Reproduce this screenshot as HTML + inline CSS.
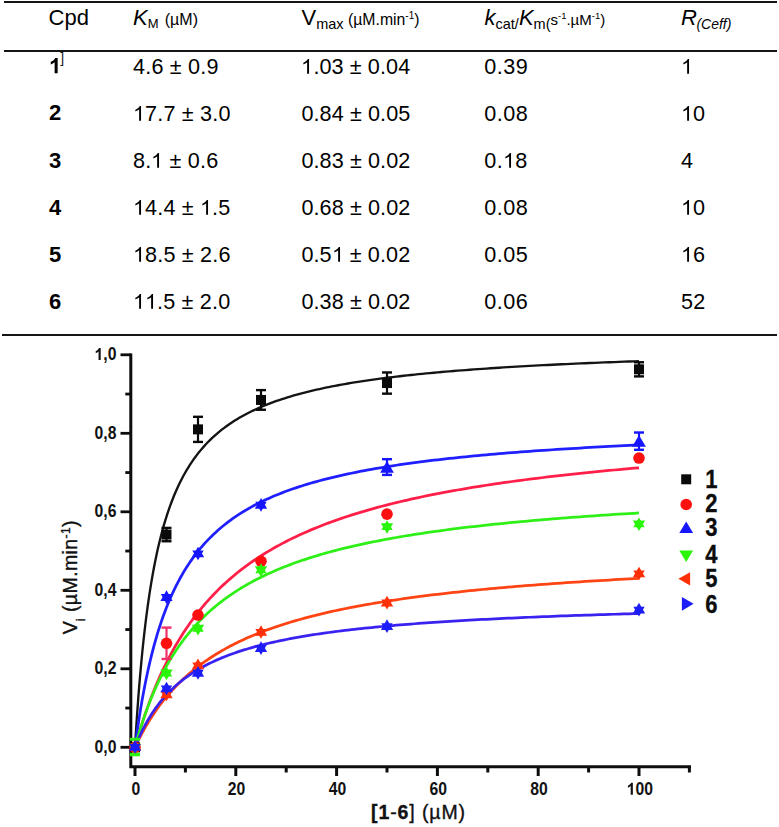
<!DOCTYPE html>
<html><head><meta charset="utf-8"><style>
html,body{margin:0;padding:0;background:#fff;}
body{width:779px;height:827px;position:relative;overflow:hidden;font-family:"Liberation Sans", sans-serif;color:#000;}
.t{position:absolute;white-space:nowrap;line-height:1;}
.hl{position:absolute;background:#151515;}
svg.chart{position:absolute;left:0;top:0;}
svg.one{display:inline-block;vertical-align:baseline;width:0.5562em;height:0.688em;fill:currentColor;overflow:visible;}
svg text{font-family:"Liberation Sans", sans-serif;}
</style></head><body>
<div class="t" style="left:48.60px;top:7.28px;font-size:22px;font-weight:normal;font-style:normal;color:#000;">Cpd</div>
<div class="t" style="left:133.00px;top:7.28px;font-size:22px;font-weight:normal;font-style:normal;color:#000;"><i>K</i><span style="font-size:13px;position:relative;top:3.2px;">M</span><span style="font-size:16px;position:relative;top:0px;margin-left:1.8px">&nbsp;(µM)</span></div>
<div class="t" style="left:301.50px;top:7.28px;font-size:22px;font-weight:normal;font-style:normal;color:#000;">V<span style="font-size:14.5px;position:relative;top:3.4px;">max</span><span style="font-size:15.8px;position:relative;top:0px;">&nbsp;(µM.min<span style="font-size:10px;position:relative;top:-6px;">-1</span>)</span></div>
<div class="t" style="left:484.50px;top:7.28px;font-size:22px;font-weight:normal;font-style:normal;color:#000;"><i>k</i><span style="font-size:14.5px;position:relative;top:3.4px;">cat/</span><i>K</i><span style="font-size:14.5px;position:relative;top:3.4px;">m(</span><span style="font-size:15px;position:relative;top:0px;">s<span style="font-size:9.5px;position:relative;top:-6px;">-1</span>.µM<span style="font-size:9.5px;position:relative;top:-6px;">-1</span>)</span></div>
<div class="t" style="left:681.00px;top:7.28px;font-size:22px;font-weight:normal;font-style:normal;color:#000;"><i>R</i><span style="font-size:14px;position:relative;top:3.3px;font-style:italic;margin-left:-0.5px">(Ceff)</span></div>
<div class="t" style="left:48.90px;top:55.38px;font-size:22px;font-weight:bold;font-style:normal;color:#000;"><svg class="one" viewBox="0 0 1139 1472" preserveAspectRatio="none"><path transform="matrix(1 0 0 -1 0 1472)" d="M806 0H525V1059Q371 915 162 846V1101Q272 1137 401 1237.5T578 1472H806V0Z"/></svg></div>
<div class="t" style="left:133.00px;top:55.72px;font-size:21.6px;font-weight:normal;font-style:normal;color:#000;letter-spacing:0.2px">4.6 ± 0.9</div>
<div class="t" style="left:301.40px;top:55.72px;font-size:21.6px;font-weight:normal;font-style:normal;color:#000;letter-spacing:0.1px"><svg class="one" viewBox="0 0 1139 1472" preserveAspectRatio="none"><path transform="matrix(1 0 0 -1 0 1472)" d="M763 0H583V1147Q518 1085 412.5 1023T223 930V1104Q374 1175 487 1276T647 1472H763V0Z"/></svg>.03 ± 0.04</div>
<div class="t" style="left:484.20px;top:55.72px;font-size:21.6px;font-weight:normal;font-style:normal;color:#000;letter-spacing:0.5px">0.39</div>
<div class="t" style="left:681.00px;top:55.72px;font-size:21.6px;font-weight:normal;font-style:normal;color:#000;letter-spacing:0.3px"><svg class="one" viewBox="0 0 1139 1472" preserveAspectRatio="none"><path transform="matrix(1 0 0 -1 0 1472)" d="M763 0H583V1147Q518 1085 412.5 1023T223 930V1104Q374 1175 487 1276T647 1472H763V0Z"/></svg></div>
<div class="t" style="left:48.90px;top:102.48px;font-size:22px;font-weight:bold;font-style:normal;color:#000;">2</div>
<div class="t" style="left:133.00px;top:102.82px;font-size:21.6px;font-weight:normal;font-style:normal;color:#000;letter-spacing:0.2px"><svg class="one" viewBox="0 0 1139 1472" preserveAspectRatio="none"><path transform="matrix(1 0 0 -1 0 1472)" d="M763 0H583V1147Q518 1085 412.5 1023T223 930V1104Q374 1175 487 1276T647 1472H763V0Z"/></svg>7.7 ± 3.0</div>
<div class="t" style="left:301.40px;top:102.82px;font-size:21.6px;font-weight:normal;font-style:normal;color:#000;letter-spacing:0.1px">0.84 ± 0.05</div>
<div class="t" style="left:484.20px;top:102.82px;font-size:21.6px;font-weight:normal;font-style:normal;color:#000;letter-spacing:0.5px">0.08</div>
<div class="t" style="left:681.00px;top:102.82px;font-size:21.6px;font-weight:normal;font-style:normal;color:#000;letter-spacing:0.3px"><svg class="one" viewBox="0 0 1139 1472" preserveAspectRatio="none"><path transform="matrix(1 0 0 -1 0 1472)" d="M763 0H583V1147Q518 1085 412.5 1023T223 930V1104Q374 1175 487 1276T647 1472H763V0Z"/></svg>0</div>
<div class="t" style="left:48.90px;top:149.58px;font-size:22px;font-weight:bold;font-style:normal;color:#000;">3</div>
<div class="t" style="left:133.00px;top:149.92px;font-size:21.6px;font-weight:normal;font-style:normal;color:#000;letter-spacing:0.2px">8.<svg class="one" viewBox="0 0 1139 1472" preserveAspectRatio="none"><path transform="matrix(1 0 0 -1 0 1472)" d="M763 0H583V1147Q518 1085 412.5 1023T223 930V1104Q374 1175 487 1276T647 1472H763V0Z"/></svg> ± 0.6</div>
<div class="t" style="left:301.40px;top:149.92px;font-size:21.6px;font-weight:normal;font-style:normal;color:#000;letter-spacing:0.1px">0.83 ± 0.02</div>
<div class="t" style="left:484.20px;top:149.92px;font-size:21.6px;font-weight:normal;font-style:normal;color:#000;letter-spacing:0.5px">0.<svg class="one" viewBox="0 0 1139 1472" preserveAspectRatio="none"><path transform="matrix(1 0 0 -1 0 1472)" d="M763 0H583V1147Q518 1085 412.5 1023T223 930V1104Q374 1175 487 1276T647 1472H763V0Z"/></svg>8</div>
<div class="t" style="left:681.00px;top:149.92px;font-size:21.6px;font-weight:normal;font-style:normal;color:#000;letter-spacing:0.3px">4</div>
<div class="t" style="left:48.90px;top:196.68px;font-size:22px;font-weight:bold;font-style:normal;color:#000;">4</div>
<div class="t" style="left:133.00px;top:197.02px;font-size:21.6px;font-weight:normal;font-style:normal;color:#000;letter-spacing:0.2px"><svg class="one" viewBox="0 0 1139 1472" preserveAspectRatio="none"><path transform="matrix(1 0 0 -1 0 1472)" d="M763 0H583V1147Q518 1085 412.5 1023T223 930V1104Q374 1175 487 1276T647 1472H763V0Z"/></svg>4.4 ± <svg class="one" viewBox="0 0 1139 1472" preserveAspectRatio="none"><path transform="matrix(1 0 0 -1 0 1472)" d="M763 0H583V1147Q518 1085 412.5 1023T223 930V1104Q374 1175 487 1276T647 1472H763V0Z"/></svg>.5</div>
<div class="t" style="left:301.40px;top:197.02px;font-size:21.6px;font-weight:normal;font-style:normal;color:#000;letter-spacing:0.1px">0.68 ± 0.02</div>
<div class="t" style="left:484.20px;top:197.02px;font-size:21.6px;font-weight:normal;font-style:normal;color:#000;letter-spacing:0.5px">0.08</div>
<div class="t" style="left:681.00px;top:197.02px;font-size:21.6px;font-weight:normal;font-style:normal;color:#000;letter-spacing:0.3px"><svg class="one" viewBox="0 0 1139 1472" preserveAspectRatio="none"><path transform="matrix(1 0 0 -1 0 1472)" d="M763 0H583V1147Q518 1085 412.5 1023T223 930V1104Q374 1175 487 1276T647 1472H763V0Z"/></svg>0</div>
<div class="t" style="left:48.90px;top:243.78px;font-size:22px;font-weight:bold;font-style:normal;color:#000;">5</div>
<div class="t" style="left:133.00px;top:244.12px;font-size:21.6px;font-weight:normal;font-style:normal;color:#000;letter-spacing:0.2px"><svg class="one" viewBox="0 0 1139 1472" preserveAspectRatio="none"><path transform="matrix(1 0 0 -1 0 1472)" d="M763 0H583V1147Q518 1085 412.5 1023T223 930V1104Q374 1175 487 1276T647 1472H763V0Z"/></svg>8.5 ± 2.6</div>
<div class="t" style="left:301.40px;top:244.12px;font-size:21.6px;font-weight:normal;font-style:normal;color:#000;letter-spacing:0.1px">0.5<svg class="one" viewBox="0 0 1139 1472" preserveAspectRatio="none"><path transform="matrix(1 0 0 -1 0 1472)" d="M763 0H583V1147Q518 1085 412.5 1023T223 930V1104Q374 1175 487 1276T647 1472H763V0Z"/></svg> ± 0.02</div>
<div class="t" style="left:484.20px;top:244.12px;font-size:21.6px;font-weight:normal;font-style:normal;color:#000;letter-spacing:0.5px">0.05</div>
<div class="t" style="left:681.00px;top:244.12px;font-size:21.6px;font-weight:normal;font-style:normal;color:#000;letter-spacing:0.3px"><svg class="one" viewBox="0 0 1139 1472" preserveAspectRatio="none"><path transform="matrix(1 0 0 -1 0 1472)" d="M763 0H583V1147Q518 1085 412.5 1023T223 930V1104Q374 1175 487 1276T647 1472H763V0Z"/></svg>6</div>
<div class="t" style="left:48.90px;top:290.88px;font-size:22px;font-weight:bold;font-style:normal;color:#000;">6</div>
<div class="t" style="left:133.00px;top:291.22px;font-size:21.6px;font-weight:normal;font-style:normal;color:#000;letter-spacing:0.2px"><svg class="one" viewBox="0 0 1139 1472" preserveAspectRatio="none"><path transform="matrix(1 0 0 -1 0 1472)" d="M763 0H583V1147Q518 1085 412.5 1023T223 930V1104Q374 1175 487 1276T647 1472H763V0Z"/></svg><svg class="one" viewBox="0 0 1139 1472" preserveAspectRatio="none"><path transform="matrix(1 0 0 -1 0 1472)" d="M763 0H583V1147Q518 1085 412.5 1023T223 930V1104Q374 1175 487 1276T647 1472H763V0Z"/></svg>.5 ± 2.0</div>
<div class="t" style="left:301.40px;top:291.22px;font-size:21.6px;font-weight:normal;font-style:normal;color:#000;letter-spacing:0.1px">0.38 ± 0.02</div>
<div class="t" style="left:484.20px;top:291.22px;font-size:21.6px;font-weight:normal;font-style:normal;color:#000;letter-spacing:0.5px">0.06</div>
<div class="t" style="left:681.00px;top:291.22px;font-size:21.6px;font-weight:normal;font-style:normal;color:#000;letter-spacing:0.3px">52</div>
<div class="t" style="left:60.30px;top:51.15px;font-size:14px;font-weight:normal;font-style:normal;color:#1a1a1a;">]</div>
<div class="hl" style="left:4px;top:1.2px;width:773px;height:1.8px"></div>
<div class="hl" style="left:4px;top:50.0px;width:773px;height:2.0px"></div>
<div class="hl" style="left:2px;top:333.6px;width:775px;height:2.2px"></div>
<svg class="chart" width="779" height="827" viewBox="0 0 779 827">
<path d="M130.8 353.5 V766.8 H691" fill="none" stroke="#0d0d0d" stroke-width="3"/>
<line x1="120.5" y1="747.30" x2="131" y2="747.30" stroke="#0d0d0d" stroke-width="2.8"/>
<line x1="125.3" y1="708.05" x2="131" y2="708.05" stroke="#0d0d0d" stroke-width="2.8"/>
<line x1="120.5" y1="668.80" x2="131" y2="668.80" stroke="#0d0d0d" stroke-width="2.8"/>
<line x1="125.3" y1="629.55" x2="131" y2="629.55" stroke="#0d0d0d" stroke-width="2.8"/>
<line x1="120.5" y1="590.30" x2="131" y2="590.30" stroke="#0d0d0d" stroke-width="2.8"/>
<line x1="125.3" y1="551.05" x2="131" y2="551.05" stroke="#0d0d0d" stroke-width="2.8"/>
<line x1="120.5" y1="511.80" x2="131" y2="511.80" stroke="#0d0d0d" stroke-width="2.8"/>
<line x1="125.3" y1="472.55" x2="131" y2="472.55" stroke="#0d0d0d" stroke-width="2.8"/>
<line x1="120.5" y1="433.30" x2="131" y2="433.30" stroke="#0d0d0d" stroke-width="2.8"/>
<line x1="125.3" y1="394.05" x2="131" y2="394.05" stroke="#0d0d0d" stroke-width="2.8"/>
<line x1="120.5" y1="354.80" x2="131" y2="354.80" stroke="#0d0d0d" stroke-width="2.8"/>
<line x1="135.00" y1="766" x2="135.00" y2="776" stroke="#0d0d0d" stroke-width="3"/>
<line x1="185.40" y1="766" x2="185.40" y2="772.5" stroke="#0d0d0d" stroke-width="3"/>
<line x1="235.80" y1="766" x2="235.80" y2="776" stroke="#0d0d0d" stroke-width="3"/>
<line x1="286.20" y1="766" x2="286.20" y2="772.5" stroke="#0d0d0d" stroke-width="3"/>
<line x1="336.60" y1="766" x2="336.60" y2="776" stroke="#0d0d0d" stroke-width="3"/>
<line x1="387.00" y1="766" x2="387.00" y2="772.5" stroke="#0d0d0d" stroke-width="3"/>
<line x1="437.40" y1="766" x2="437.40" y2="776" stroke="#0d0d0d" stroke-width="3"/>
<line x1="487.80" y1="766" x2="487.80" y2="772.5" stroke="#0d0d0d" stroke-width="3"/>
<line x1="538.20" y1="766" x2="538.20" y2="776" stroke="#0d0d0d" stroke-width="3"/>
<line x1="588.60" y1="766" x2="588.60" y2="772.5" stroke="#0d0d0d" stroke-width="3"/>
<line x1="639.00" y1="766" x2="639.00" y2="776" stroke="#0d0d0d" stroke-width="3"/>
<line x1="689.40" y1="766" x2="689.40" y2="772.5" stroke="#0d0d0d" stroke-width="3"/>
<text transform="translate(116.4,752.60) scale(0.9,1)" text-anchor="end" font-size="17.5" font-weight="bold" fill="#111">0,0</text>
<text transform="translate(116.4,674.10) scale(0.9,1)" text-anchor="end" font-size="17.5" font-weight="bold" fill="#111">0,2</text>
<text transform="translate(116.4,595.60) scale(0.9,1)" text-anchor="end" font-size="17.5" font-weight="bold" fill="#111">0,4</text>
<text transform="translate(116.4,517.10) scale(0.9,1)" text-anchor="end" font-size="17.5" font-weight="bold" fill="#111">0,6</text>
<text transform="translate(116.4,438.60) scale(0.9,1)" text-anchor="end" font-size="17.5" font-weight="bold" fill="#111">0,8</text>
<path transform="translate(94.50,360.10) scale(0.00769,-0.00818)" d="M806 0H525V1059Q371 915 162 846V1101Q272 1137 401 1237.5T578 1472H806V0Z" fill="#111"/>
<text transform="translate(116.4,360.10) scale(0.9,1)" text-anchor="end" font-size="17.5" font-weight="bold" fill="#111">,0</text>
<text transform="translate(135.80,794.7) scale(0.9,1)" text-anchor="middle" font-size="17.5" font-weight="bold" fill="#111">0</text>
<text transform="translate(236.60,794.7) scale(0.9,1)" text-anchor="middle" font-size="17.5" font-weight="bold" fill="#111">20</text>
<text transform="translate(337.40,794.7) scale(0.9,1)" text-anchor="middle" font-size="17.5" font-weight="bold" fill="#111">40</text>
<text transform="translate(438.20,794.7) scale(0.9,1)" text-anchor="middle" font-size="17.5" font-weight="bold" fill="#111">60</text>
<text transform="translate(539.00,794.7) scale(0.9,1)" text-anchor="middle" font-size="17.5" font-weight="bold" fill="#111">80</text>
<path transform="translate(626.66,794.7) scale(0.00769,-0.00818)" d="M806 0H525V1059Q371 915 162 846V1101Q272 1137 401 1237.5T578 1472H806V0Z" fill="#111"/>
<text transform="translate(635.42,794.7) scale(0.9,1)" font-size="17.5" font-weight="bold" fill="#111">00</text>
<text x="418.5" y="819" text-anchor="middle" font-size="19.5" letter-spacing="0.9" fill="#111" stroke="#111" stroke-width="0.35"><tspan font-weight="bold">[</tspan><tspan font-weight="bold">1</tspan>-<tspan font-weight="bold">6</tspan>] (µM)</text>
<text transform="translate(76.8,577.2) rotate(-90)" text-anchor="middle" font-size="19.5" letter-spacing="0.4" fill="#111" stroke="#111" stroke-width="0.35">V<tspan font-size="12" dy="8">i</tspan><tspan dy="-8"> (µM.min</tspan><tspan font-size="12" dy="-7">-1</tspan><tspan dy="7">)</tspan></text>
<polyline points="135.00,747.30 135.01,747.09 135.05,746.44 135.11,745.37 135.20,743.89 135.31,741.99 135.45,739.70 135.62,737.03 135.81,733.99 136.02,730.60 136.26,726.88 136.52,722.85 136.81,718.54 137.13,713.96 137.47,709.13 137.84,704.09 138.23,698.85 138.64,693.43 139.08,687.87 139.55,682.18 140.04,676.37 140.56,670.49 141.10,664.53 141.67,658.52 142.26,652.49 142.88,646.43 143.52,640.38 144.19,634.34 144.88,628.32 145.60,622.35 146.34,616.42 147.11,610.55 147.90,604.75 148.72,599.02 149.57,593.37 150.44,587.80 151.33,582.33 152.25,576.95 153.19,571.68 154.16,566.50 155.16,561.43 156.18,556.46 157.23,551.60 158.30,546.84 159.39,542.20 160.51,537.66 161.66,533.22 162.83,528.90 164.03,524.68 165.25,520.56 166.50,516.55 167.77,512.64 169.07,508.83 170.39,505.11 171.74,501.50 173.12,497.98 174.51,494.55 175.94,491.21 177.39,487.96 178.86,484.80 180.36,481.72 181.88,478.72 183.43,475.81 185.01,472.97 186.61,470.21 188.24,467.52 189.89,464.90 191.56,462.36 193.26,459.88 194.99,457.47 196.74,455.12 198.52,452.84 200.32,450.62 202.15,448.45 204.00,446.35 205.88,444.30 207.78,442.30 209.71,440.35 211.66,438.46 213.64,436.61 215.64,434.82 217.67,433.07 219.72,431.36 221.80,429.70 223.91,428.08 226.03,426.50 228.19,424.96 230.37,423.46 232.57,422.00 234.80,420.57 237.06,419.18 239.34,417.82 241.65,416.50 243.98,415.21 246.33,413.95 248.72,412.72 251.12,411.52 253.55,410.35 256.01,409.21 258.49,408.09 261.00,407.00 263.53,405.94 266.09,404.90 268.67,403.88 271.28,402.89 273.91,401.92 276.57,400.97 279.26,400.05 281.97,399.14 284.70,398.26 287.46,397.39 290.24,396.54 293.05,395.72 295.89,394.91 298.75,394.12 301.63,393.34 304.55,392.58 307.48,391.84 310.44,391.12 313.43,390.41 316.44,389.71 319.48,389.03 322.54,388.36 325.63,387.71 328.74,387.07 331.88,386.44 335.04,385.83 338.23,385.23 341.44,384.64 344.68,384.06 347.94,383.50 351.23,382.94 354.54,382.40 357.88,381.86 361.25,381.34 364.64,380.83 368.05,380.33 371.49,379.83 374.95,379.35 378.44,378.87 381.96,378.41 385.50,377.95 389.07,377.50 392.66,377.06 396.27,376.63 399.92,376.21 403.58,375.79 407.27,375.38 410.99,374.98 414.73,374.59 418.50,374.20 422.29,373.82 426.11,373.45 429.95,373.08 433.82,372.72 437.72,372.36 441.63,372.02 445.58,371.67 449.55,371.34 453.54,371.01 457.56,370.68 461.60,370.36 465.67,370.05 469.77,369.74 473.89,369.44 478.03,369.14 482.21,368.84 486.40,368.56 490.62,368.27 494.87,367.99 499.14,367.72 503.44,367.45 507.76,367.18 512.11,366.92 516.48,366.66 520.88,366.41 525.30,366.16 529.75,365.91 534.22,365.67 538.72,365.43 543.24,365.20 547.79,364.97 552.36,364.74 556.96,364.51 561.59,364.29 566.24,364.08 570.91,363.86 575.61,363.65 580.33,363.44 585.08,363.24 589.86,363.04 594.66,362.84 599.49,362.64 604.34,362.45 609.21,362.26 614.12,362.07 619.04,361.89 623.99,361.70 628.97,361.52 633.97,361.35 639.00,361.17" fill="none" stroke="#141414" stroke-width="2.35" stroke-linejoin="round"/>
<polyline points="135.00,747.30 135.01,747.25 135.05,747.12 135.11,746.89 135.20,746.57 135.31,746.16 135.45,745.67 135.62,745.08 135.81,744.41 136.02,743.65 136.26,742.80 136.52,741.87 136.81,740.86 137.13,739.77 137.47,738.60 137.84,737.35 138.23,736.03 138.64,734.63 139.08,733.16 139.55,731.62 140.04,730.02 140.56,728.35 141.10,726.62 141.67,724.82 142.26,722.97 142.88,721.07 143.52,719.11 144.19,717.10 144.88,715.05 145.60,712.95 146.34,710.80 147.11,708.62 147.90,706.40 148.72,704.14 149.57,701.85 150.44,699.53 151.33,697.18 152.25,694.81 153.19,692.41 154.16,689.99 155.16,687.55 156.18,685.10 157.23,682.63 158.30,680.15 159.39,677.66 160.51,675.15 161.66,672.64 162.83,670.13 164.03,667.61 165.25,665.09 166.50,662.57 167.77,660.06 169.07,657.54 170.39,655.03 171.74,652.52 173.12,650.02 174.51,647.53 175.94,645.05 177.39,642.58 178.86,640.12 180.36,637.68 181.88,635.24 183.43,632.82 185.01,630.42 186.61,628.03 188.24,625.66 189.89,623.30 191.56,620.96 193.26,618.65 194.99,616.35 196.74,614.07 198.52,611.81 200.32,609.57 202.15,607.35 204.00,605.15 205.88,602.97 207.78,600.82 209.71,598.68 211.66,596.57 213.64,594.48 215.64,592.42 217.67,590.37 219.72,588.35 221.80,586.35 223.91,584.38 226.03,582.42 228.19,580.49 230.37,578.59 232.57,576.70 234.80,574.84 237.06,573.00 239.34,571.18 241.65,569.39 243.98,567.62 246.33,565.87 248.72,564.14 251.12,562.44 253.55,560.75 256.01,559.09 258.49,557.45 261.00,555.83 263.53,554.23 266.09,552.66 268.67,551.10 271.28,549.57 273.91,548.05 276.57,546.56 279.26,545.08 281.97,543.63 284.70,542.19 287.46,540.78 290.24,539.38 293.05,538.01 295.89,536.65 298.75,535.31 301.63,533.99 304.55,532.68 307.48,531.40 310.44,530.13 313.43,528.88 316.44,527.65 319.48,526.43 322.54,525.23 325.63,524.05 328.74,522.88 331.88,521.73 335.04,520.59 338.23,519.47 341.44,518.37 344.68,517.28 347.94,516.21 351.23,515.15 354.54,514.10 357.88,513.07 361.25,512.06 364.64,511.06 368.05,510.07 371.49,509.09 374.95,508.13 378.44,507.18 381.96,506.25 385.50,505.33 389.07,504.42 392.66,503.52 396.27,502.63 399.92,501.76 403.58,500.90 407.27,500.05 410.99,499.21 414.73,498.38 418.50,497.57 422.29,496.76 426.11,495.97 429.95,495.18 433.82,494.41 437.72,493.65 441.63,492.89 445.58,492.15 449.55,491.42 453.54,490.69 457.56,489.98 461.60,489.28 465.67,488.58 469.77,487.89 473.89,487.22 478.03,486.55 482.21,485.89 486.40,485.24 490.62,484.60 494.87,483.96 499.14,483.34 503.44,482.72 507.76,482.11 512.11,481.50 516.48,480.91 520.88,480.32 525.30,479.74 529.75,479.17 534.22,478.61 538.72,478.05 543.24,477.50 547.79,476.95 552.36,476.42 556.96,475.88 561.59,475.36 566.24,474.84 570.91,474.33 575.61,473.83 580.33,473.33 585.08,472.84 589.86,472.35 594.66,471.87 599.49,471.39 604.34,470.93 609.21,470.46 614.12,470.00 619.04,469.55 623.99,469.11 628.97,468.66 633.97,468.23 639.00,467.80" fill="none" stroke="#ff1f48" stroke-width="2.75" stroke-linejoin="round"/>
<polyline points="135.00,747.30 135.01,747.20 135.05,746.91 135.11,746.42 135.20,745.75 135.31,744.88 135.45,743.83 135.62,742.59 135.81,741.17 136.02,739.59 136.26,737.83 136.52,735.91 136.81,733.83 137.13,731.61 137.47,729.24 137.84,726.73 138.23,724.10 138.64,721.34 139.08,718.48 139.55,715.50 140.04,712.43 140.56,709.28 141.10,706.03 141.67,702.72 142.26,699.34 142.88,695.90 143.52,692.41 144.19,688.87 144.88,685.30 145.60,681.69 146.34,678.06 147.11,674.41 147.90,670.75 148.72,667.08 149.57,663.41 150.44,659.74 151.33,656.07 152.25,652.42 153.19,648.79 154.16,645.17 155.16,641.58 156.18,638.01 157.23,634.47 158.30,630.97 159.39,627.49 160.51,624.06 161.66,620.66 162.83,617.30 164.03,613.98 165.25,610.71 166.50,607.48 167.77,604.30 169.07,601.16 170.39,598.07 171.74,595.02 173.12,592.03 174.51,589.08 175.94,586.18 177.39,583.33 178.86,580.53 180.36,577.78 181.88,575.08 183.43,572.42 185.01,569.81 186.61,567.26 188.24,564.74 189.89,562.28 191.56,559.86 193.26,557.49 194.99,555.16 196.74,552.88 198.52,550.64 200.32,548.45 202.15,546.30 204.00,544.19 205.88,542.12 207.78,540.10 209.71,538.11 211.66,536.17 213.64,534.26 215.64,532.39 217.67,530.56 219.72,528.76 221.80,527.01 223.91,525.28 226.03,523.60 228.19,521.94 230.37,520.32 232.57,518.73 234.80,517.18 237.06,515.65 239.34,514.16 241.65,512.69 243.98,511.26 246.33,509.85 248.72,508.48 251.12,507.13 253.55,505.80 256.01,504.51 258.49,503.23 261.00,501.99 263.53,500.77 266.09,499.57 268.67,498.39 271.28,497.24 273.91,496.11 276.57,495.01 279.26,493.92 281.97,492.86 284.70,491.81 287.46,490.79 290.24,489.79 293.05,488.80 295.89,487.84 298.75,486.89 301.63,485.96 304.55,485.05 307.48,484.15 310.44,483.27 313.43,482.41 316.44,481.57 319.48,480.74 322.54,479.92 325.63,479.12 328.74,478.34 331.88,477.57 335.04,476.81 338.23,476.07 341.44,475.34 344.68,474.62 347.94,473.92 351.23,473.22 354.54,472.55 357.88,471.88 361.25,471.22 364.64,470.58 368.05,469.95 371.49,469.33 374.95,468.71 378.44,468.11 381.96,467.52 385.50,466.94 389.07,466.37 392.66,465.81 396.27,465.26 399.92,464.72 403.58,464.19 407.27,463.67 410.99,463.15 414.73,462.64 418.50,462.15 422.29,461.66 426.11,461.17 429.95,460.70 433.82,460.23 437.72,459.77 441.63,459.32 445.58,458.88 449.55,458.44 453.54,458.01 457.56,457.59 461.60,457.17 465.67,456.76 469.77,456.36 473.89,455.96 478.03,455.57 482.21,455.18 486.40,454.80 490.62,454.43 494.87,454.06 499.14,453.70 503.44,453.34 507.76,452.99 512.11,452.64 516.48,452.30 520.88,451.96 525.30,451.63 529.75,451.31 534.22,450.99 538.72,450.67 543.24,450.36 547.79,450.05 552.36,449.75 556.96,449.45 561.59,449.15 566.24,448.86 570.91,448.57 575.61,448.29 580.33,448.01 585.08,447.74 589.86,447.47 594.66,447.20 599.49,446.94 604.34,446.68 609.21,446.42 614.12,446.17 619.04,445.92 623.99,445.68 628.97,445.43 633.97,445.20 639.00,444.96" fill="none" stroke="#1f1fff" stroke-width="2.75" stroke-linejoin="round"/>
<polyline points="135.00,747.30 135.01,747.25 135.05,747.11 135.11,746.88 135.20,746.56 135.31,746.14 135.45,745.63 135.62,745.04 135.81,744.35 136.02,743.58 136.26,742.73 136.52,741.78 136.81,740.76 137.13,739.66 137.47,738.48 137.84,737.22 138.23,735.89 138.64,734.49 139.08,733.02 139.55,731.49 140.04,729.89 140.56,728.23 141.10,726.52 141.67,724.75 142.26,722.93 142.88,721.06 143.52,719.14 144.19,717.18 144.88,715.18 145.60,713.15 146.34,711.07 147.11,708.97 147.90,706.84 148.72,704.68 149.57,702.49 150.44,700.29 151.33,698.06 152.25,695.82 153.19,693.57 154.16,691.30 155.16,689.02 156.18,686.74 157.23,684.45 158.30,682.16 159.39,679.86 160.51,677.57 161.66,675.28 162.83,672.99 164.03,670.71 165.25,668.43 166.50,666.16 167.77,663.90 169.07,661.66 170.39,659.42 171.74,657.20 173.12,654.99 174.51,652.80 175.94,650.62 177.39,648.46 178.86,646.32 180.36,644.19 181.88,642.09 183.43,640.00 185.01,637.94 186.61,635.89 188.24,633.87 189.89,631.86 191.56,629.88 193.26,627.92 194.99,625.99 196.74,624.07 198.52,622.18 200.32,620.32 202.15,618.47 204.00,616.65 205.88,614.85 207.78,613.08 209.71,611.32 211.66,609.59 213.64,607.89 215.64,606.21 217.67,604.55 219.72,602.91 221.80,601.30 223.91,599.71 226.03,598.14 228.19,596.59 230.37,595.07 232.57,593.57 234.80,592.09 237.06,590.63 239.34,589.20 241.65,587.78 243.98,586.39 246.33,585.01 248.72,583.66 251.12,582.33 253.55,581.02 256.01,579.73 258.49,578.45 261.00,577.20 263.53,575.97 266.09,574.75 268.67,573.55 271.28,572.38 273.91,571.22 276.57,570.07 279.26,568.95 281.97,567.84 284.70,566.75 287.46,565.68 290.24,564.62 293.05,563.58 295.89,562.56 298.75,561.55 301.63,560.56 304.55,559.58 307.48,558.62 310.44,557.67 313.43,556.73 316.44,555.82 319.48,554.91 322.54,554.02 325.63,553.14 328.74,552.28 331.88,551.43 335.04,550.59 338.23,549.77 341.44,548.95 344.68,548.15 347.94,547.37 351.23,546.59 354.54,545.83 357.88,545.07 361.25,544.33 364.64,543.60 368.05,542.88 371.49,542.17 374.95,541.48 378.44,540.79 381.96,540.11 385.50,539.44 389.07,538.79 392.66,538.14 396.27,537.50 399.92,536.87 403.58,536.25 407.27,535.64 410.99,535.04 414.73,534.45 418.50,533.86 422.29,533.29 426.11,532.72 429.95,532.16 433.82,531.61 437.72,531.06 441.63,530.53 445.58,530.00 449.55,529.48 453.54,528.97 457.56,528.46 461.60,527.96 465.67,527.47 469.77,526.99 473.89,526.51 478.03,526.04 482.21,525.57 486.40,525.11 490.62,524.66 494.87,524.21 499.14,523.77 503.44,523.34 507.76,522.91 512.11,522.49 516.48,522.07 520.88,521.66 525.30,521.26 529.75,520.86 534.22,520.46 538.72,520.07 543.24,519.69 547.79,519.31 552.36,518.93 556.96,518.56 561.59,518.20 566.24,517.84 570.91,517.49 575.61,517.13 580.33,516.79 585.08,516.45 589.86,516.11 594.66,515.78 599.49,515.45 604.34,515.12 609.21,514.80 614.12,514.49 619.04,514.18 623.99,513.87 628.97,513.56 633.97,513.26 639.00,512.97" fill="none" stroke="#2ef016" stroke-width="2.75" stroke-linejoin="round"/>
<polyline points="135.00,747.30 135.01,747.27 135.05,747.19 135.11,747.06 135.20,746.87 135.31,746.63 135.45,746.33 135.62,745.98 135.81,745.58 136.02,745.13 136.26,744.63 136.52,744.08 136.81,743.48 137.13,742.83 137.47,742.13 137.84,741.39 138.23,740.61 138.64,739.78 139.08,738.90 139.55,737.99 140.04,737.03 140.56,736.04 141.10,735.01 141.67,733.94 142.26,732.84 142.88,731.71 143.52,730.54 144.19,729.35 144.88,728.12 145.60,726.87 146.34,725.59 147.11,724.29 147.90,722.97 148.72,721.62 149.57,720.25 150.44,718.87 151.33,717.47 152.25,716.05 153.19,714.62 154.16,713.17 155.16,711.71 156.18,710.25 157.23,708.77 158.30,707.28 159.39,705.79 160.51,704.29 161.66,702.79 162.83,701.28 164.03,699.77 165.25,698.26 166.50,696.75 167.77,695.24 169.07,693.73 170.39,692.22 171.74,690.72 173.12,689.22 174.51,687.72 175.94,686.23 177.39,684.74 178.86,683.26 180.36,681.79 181.88,680.32 183.43,678.87 185.01,677.42 186.61,675.98 188.24,674.55 189.89,673.13 191.56,671.72 193.26,670.32 194.99,668.93 196.74,667.56 198.52,666.19 200.32,664.84 202.15,663.50 204.00,662.17 205.88,660.85 207.78,659.55 209.71,658.26 211.66,656.98 213.64,655.72 215.64,654.47 217.67,653.23 219.72,652.00 221.80,650.79 223.91,649.59 226.03,648.41 228.19,647.24 230.37,646.08 232.57,644.94 234.80,643.81 237.06,642.69 239.34,641.59 241.65,640.50 243.98,639.42 246.33,638.36 248.72,637.31 251.12,636.27 253.55,635.25 256.01,634.24 258.49,633.24 261.00,632.26 263.53,631.28 266.09,630.33 268.67,629.38 271.28,628.44 273.91,627.52 276.57,626.61 279.26,625.71 281.97,624.83 284.70,623.95 287.46,623.09 290.24,622.24 293.05,621.40 295.89,620.57 298.75,619.75 301.63,618.95 304.55,618.15 307.48,617.37 310.44,616.59 313.43,615.83 316.44,615.07 319.48,614.33 322.54,613.60 325.63,612.88 328.74,612.16 331.88,611.46 335.04,610.77 338.23,610.08 341.44,609.41 344.68,608.74 347.94,608.08 351.23,607.44 354.54,606.80 357.88,606.17 361.25,605.54 364.64,604.93 368.05,604.33 371.49,603.73 374.95,603.14 378.44,602.56 381.96,601.99 385.50,601.42 389.07,600.87 392.66,600.32 396.27,599.77 399.92,599.24 403.58,598.71 407.27,598.19 410.99,597.67 414.73,597.17 418.50,596.67 422.29,596.17 426.11,595.69 429.95,595.20 433.82,594.73 437.72,594.26 441.63,593.80 445.58,593.34 449.55,592.89 453.54,592.45 457.56,592.01 461.60,591.58 465.67,591.15 469.77,590.73 473.89,590.32 478.03,589.91 482.21,589.50 486.40,589.10 490.62,588.71 494.87,588.32 499.14,587.93 503.44,587.55 507.76,587.18 512.11,586.81 516.48,586.44 520.88,586.08 525.30,585.72 529.75,585.37 534.22,585.03 538.72,584.68 543.24,584.34 547.79,584.01 552.36,583.68 556.96,583.35 561.59,583.03 566.24,582.71 570.91,582.40 575.61,582.09 580.33,581.78 585.08,581.48 589.86,581.18 594.66,580.88 599.49,580.59 604.34,580.30 609.21,580.02 614.12,579.73 619.04,579.46 623.99,579.18 628.97,578.91 633.97,578.64 639.00,578.38" fill="none" stroke="#ff4414" stroke-width="2.75" stroke-linejoin="round"/>
<polyline points="135.00,747.30 135.01,747.27 135.05,747.17 135.11,747.01 135.20,746.78 135.31,746.49 135.45,746.14 135.62,745.73 135.81,745.25 136.02,744.72 136.26,744.13 136.52,743.48 136.81,742.77 137.13,742.01 137.47,741.20 137.84,740.34 138.23,739.44 138.64,738.48 139.08,737.49 139.55,736.45 140.04,735.37 140.56,734.25 141.10,733.10 141.67,731.92 142.26,730.70 142.88,729.46 143.52,728.19 144.19,726.90 144.88,725.58 145.60,724.25 146.34,722.89 147.11,721.53 147.90,720.14 148.72,718.75 149.57,717.35 150.44,715.93 151.33,714.52 152.25,713.09 153.19,711.67 154.16,710.24 155.16,708.81 156.18,707.38 157.23,705.96 158.30,704.54 159.39,703.12 160.51,701.71 161.66,700.31 162.83,698.91 164.03,697.53 165.25,696.15 166.50,694.78 167.77,693.43 169.07,692.08 170.39,690.75 171.74,689.43 173.12,688.13 174.51,686.84 175.94,685.56 177.39,684.30 178.86,683.05 180.36,681.82 181.88,680.60 183.43,679.40 185.01,678.22 186.61,677.05 188.24,675.89 189.89,674.76 191.56,673.64 193.26,672.53 194.99,671.44 196.74,670.37 198.52,669.31 200.32,668.27 202.15,667.25 204.00,666.24 205.88,665.25 207.78,664.27 209.71,663.31 211.66,662.37 213.64,661.44 215.64,660.52 217.67,659.62 219.72,658.74 221.80,657.87 223.91,657.01 226.03,656.17 228.19,655.34 230.37,654.53 232.57,653.73 234.80,652.95 237.06,652.17 239.34,651.41 241.65,650.67 243.98,649.93 246.33,649.21 248.72,648.51 251.12,647.81 253.55,647.12 256.01,646.45 258.49,645.79 261.00,645.14 263.53,644.50 266.09,643.88 268.67,643.26 271.28,642.66 273.91,642.06 276.57,641.47 279.26,640.90 281.97,640.33 284.70,639.78 287.46,639.23 290.24,638.70 293.05,638.17 295.89,637.65 298.75,637.14 301.63,636.64 304.55,636.15 307.48,635.66 310.44,635.19 313.43,634.72 316.44,634.26 319.48,633.81 322.54,633.36 325.63,632.93 328.74,632.50 331.88,632.07 335.04,631.66 338.23,631.25 341.44,630.85 344.68,630.45 347.94,630.06 351.23,629.68 354.54,629.30 357.88,628.93 361.25,628.57 364.64,628.21 368.05,627.86 371.49,627.51 374.95,627.17 378.44,626.83 381.96,626.50 385.50,626.18 389.07,625.86 392.66,625.54 396.27,625.23 399.92,624.92 403.58,624.62 407.27,624.33 410.99,624.04 414.73,623.75 418.50,623.47 422.29,623.19 426.11,622.92 429.95,622.65 433.82,622.38 437.72,622.12 441.63,621.86 445.58,621.61 449.55,621.36 453.54,621.11 457.56,620.87 461.60,620.63 465.67,620.39 469.77,620.16 473.89,619.93 478.03,619.71 482.21,619.49 486.40,619.27 490.62,619.05 494.87,618.84 499.14,618.63 503.44,618.42 507.76,618.22 512.11,618.02 516.48,617.82 520.88,617.63 525.30,617.44 529.75,617.25 534.22,617.06 538.72,616.87 543.24,616.69 547.79,616.51 552.36,616.34 556.96,616.16 561.59,615.99 566.24,615.82 570.91,615.65 575.61,615.49 580.33,615.33 585.08,615.17 589.86,615.01 594.66,614.85 599.49,614.70 604.34,614.54 609.21,614.39 614.12,614.25 619.04,614.10 623.99,613.96 628.97,613.81 633.97,613.67 639.00,613.53" fill="none" stroke="#3a22f0" stroke-width="2.75" stroke-linejoin="round"/>
<rect x="130.00" y="742.30" width="10" height="10" fill="#0a0a0a"/>
<line x1="166.50" y1="527.89" x2="166.50" y2="541.24" stroke="#0a0a0a" stroke-width="2.2"/>
<line x1="161.50" y1="527.89" x2="171.50" y2="527.89" stroke="#0a0a0a" stroke-width="2.4"/>
<line x1="161.50" y1="541.24" x2="171.50" y2="541.24" stroke="#0a0a0a" stroke-width="2.4"/>
<rect x="161.50" y="529.56" width="10" height="10" fill="#0a0a0a"/>
<line x1="198.00" y1="416.81" x2="198.00" y2="441.93" stroke="#0a0a0a" stroke-width="2.2"/>
<line x1="193.00" y1="416.81" x2="203.00" y2="416.81" stroke="#0a0a0a" stroke-width="2.4"/>
<line x1="193.00" y1="441.93" x2="203.00" y2="441.93" stroke="#0a0a0a" stroke-width="2.4"/>
<rect x="193.00" y="424.37" width="10" height="10" fill="#0a0a0a"/>
<line x1="261.00" y1="390.12" x2="261.00" y2="409.75" stroke="#0a0a0a" stroke-width="2.2"/>
<line x1="256.00" y1="390.12" x2="266.00" y2="390.12" stroke="#0a0a0a" stroke-width="2.4"/>
<line x1="256.00" y1="409.75" x2="266.00" y2="409.75" stroke="#0a0a0a" stroke-width="2.4"/>
<rect x="256.00" y="394.94" width="10" height="10" fill="#0a0a0a"/>
<line x1="387.00" y1="372.46" x2="387.00" y2="393.66" stroke="#0a0a0a" stroke-width="2.2"/>
<line x1="382.00" y1="372.46" x2="392.00" y2="372.46" stroke="#0a0a0a" stroke-width="2.4"/>
<line x1="382.00" y1="393.66" x2="392.00" y2="393.66" stroke="#0a0a0a" stroke-width="2.4"/>
<rect x="382.00" y="378.06" width="10" height="10" fill="#0a0a0a"/>
<line x1="639.00" y1="362.26" x2="639.00" y2="376.39" stroke="#0a0a0a" stroke-width="2.2"/>
<line x1="634.00" y1="362.26" x2="644.00" y2="362.26" stroke="#0a0a0a" stroke-width="2.4"/>
<line x1="634.00" y1="376.39" x2="644.00" y2="376.39" stroke="#0a0a0a" stroke-width="2.4"/>
<rect x="634.00" y="364.32" width="10" height="10" fill="#0a0a0a"/>
<circle cx="135.00" cy="747.30" r="5.80" fill="#ff1010"/>
<line x1="166.50" y1="627.59" x2="166.50" y2="658.99" stroke="#f0306a" stroke-width="2.2"/>
<line x1="161.50" y1="627.59" x2="171.50" y2="627.59" stroke="#f0306a" stroke-width="2.4"/>
<line x1="161.50" y1="658.99" x2="171.50" y2="658.99" stroke="#f0306a" stroke-width="2.4"/>
<circle cx="166.50" cy="643.29" r="5.80" fill="#ff1010"/>
<circle cx="198.00" cy="615.03" r="5.80" fill="#ff1010"/>
<circle cx="261.00" cy="561.25" r="5.80" fill="#ff1010"/>
<circle cx="387.00" cy="514.15" r="5.80" fill="#ff1010"/>
<circle cx="639.00" cy="458.03" r="5.80" fill="#ff1010"/>
<polygon points="135.00,740.20 141.15,750.85 128.85,750.85" fill="#1515ff"/><polygon points="135.00,753.83 129.34,744.03 140.66,744.03" fill="#1515ff"/>
<polygon points="166.50,590.26 172.65,600.91 160.35,600.91" fill="#1515ff"/><polygon points="166.50,603.90 160.84,594.10 172.16,594.10" fill="#1515ff"/>
<polygon points="198.00,546.70 204.15,557.35 191.85,557.35" fill="#1515ff"/><polygon points="198.00,560.33 192.34,550.53 203.66,550.53" fill="#1515ff"/>
<polygon points="261.00,498.03 267.15,508.68 254.85,508.68" fill="#1515ff"/><polygon points="261.00,511.66 255.34,501.86 266.66,501.86" fill="#1515ff"/>
<line x1="387.00" y1="459.20" x2="387.00" y2="474.90" stroke="#1515ff" stroke-width="2.2"/>
<line x1="382.00" y1="459.20" x2="392.00" y2="459.20" stroke="#1515ff" stroke-width="2.4"/>
<line x1="382.00" y1="474.90" x2="392.00" y2="474.90" stroke="#1515ff" stroke-width="2.4"/>
<polygon points="387.00,461.05 393.90,472.75 380.10,472.75" fill="#1515ff"/>
<line x1="639.00" y1="432.51" x2="639.00" y2="449.78" stroke="#1515ff" stroke-width="2.2"/>
<line x1="634.00" y1="432.51" x2="644.00" y2="432.51" stroke="#1515ff" stroke-width="2.4"/>
<line x1="634.00" y1="449.78" x2="644.00" y2="449.78" stroke="#1515ff" stroke-width="2.4"/>
<polygon points="639.00,435.15 645.90,446.85 632.10,446.85" fill="#1515ff"/>
<rect x="130.00" y="737.80" width="10" height="3" fill="#2af50a"/>
<rect x="130.00" y="752.80" width="10" height="3.5" fill="#2af50a"/>
<polygon points="135.00,754.40 141.15,743.75 128.85,743.75" fill="#2af50a"/><polygon points="135.00,740.77 129.34,750.57 140.66,750.57" fill="#2af50a"/>
<polygon points="166.50,680.22 172.65,669.57 160.35,669.57" fill="#2af50a"/><polygon points="166.50,666.59 160.84,676.38 172.16,676.38" fill="#2af50a"/>
<polygon points="198.00,635.47 204.15,624.82 191.85,624.82" fill="#2af50a"/><polygon points="198.00,621.84 192.34,631.64 203.66,631.64" fill="#2af50a"/>
<polygon points="261.00,576.99 267.15,566.34 254.85,566.34" fill="#2af50a"/><polygon points="261.00,563.36 255.34,573.16 266.66,573.16" fill="#2af50a"/>
<polygon points="387.00,533.81 393.15,523.16 380.85,523.16" fill="#2af50a"/><polygon points="387.00,520.18 381.34,529.98 392.66,529.98" fill="#2af50a"/>
<polygon points="639.00,531.07 645.15,520.42 632.85,520.42" fill="#2af50a"/><polygon points="639.00,517.44 633.34,527.23 644.66,527.23" fill="#2af50a"/>
<polygon points="135.00,740.20 141.15,750.85 128.85,750.85" fill="#ff3008"/><polygon points="135.00,753.83 129.34,744.03 140.66,744.03" fill="#ff3008"/>
<polygon points="166.50,687.60 172.65,698.25 160.35,698.25" fill="#ff3008"/><polygon points="166.50,701.24 160.84,691.44 172.16,691.44" fill="#ff3008"/>
<polygon points="198.00,658.56 204.15,669.21 191.85,669.21" fill="#ff3008"/><polygon points="198.00,672.19 192.34,662.39 203.66,662.39" fill="#ff3008"/>
<polygon points="261.00,625.20 267.15,635.85 254.85,635.85" fill="#ff3008"/><polygon points="261.00,638.83 255.34,629.03 266.66,629.03" fill="#ff3008"/>
<polygon points="387.00,595.76 393.15,606.41 380.85,606.41" fill="#ff3008"/><polygon points="387.00,609.39 381.34,599.59 392.66,599.59" fill="#ff3008"/>
<polygon points="639.00,566.71 645.15,577.36 632.85,577.36" fill="#ff3008"/><polygon points="639.00,580.35 633.34,570.55 644.66,570.55" fill="#ff3008"/>
<polygon points="135.00,740.20 141.15,750.85 128.85,750.85" fill="#1c1cf8"/><polygon points="135.00,753.83 129.34,744.03 140.66,744.03" fill="#1c1cf8"/>
<polygon points="166.50,681.72 172.65,692.37 160.35,692.37" fill="#1c1cf8"/><polygon points="166.50,695.35 160.84,685.55 172.16,685.55" fill="#1c1cf8"/>
<polygon points="198.00,666.02 204.15,676.67 191.85,676.67" fill="#1c1cf8"/><polygon points="198.00,679.65 192.34,669.85 203.66,669.85" fill="#1c1cf8"/>
<polygon points="261.00,641.29 267.15,651.94 254.85,651.94" fill="#1c1cf8"/><polygon points="261.00,654.92 255.34,645.12 266.66,645.12" fill="#1c1cf8"/>
<polygon points="387.00,619.31 393.15,629.96 380.85,629.96" fill="#1c1cf8"/><polygon points="387.00,632.94 381.34,623.14 392.66,623.14" fill="#1c1cf8"/>
<polygon points="639.00,602.82 645.15,613.47 632.85,613.47" fill="#1c1cf8"/><polygon points="639.00,616.46 633.34,606.66 644.66,606.66" fill="#1c1cf8"/>
<rect x="681.20" y="474.30" width="10" height="10" fill="#0a0a0a"/>
<text transform="translate(705.2,487.50) scale(0.88,1)" font-size="25" font-weight="bold" fill="#0d0d0d" stroke="#0d0d0d" stroke-width="0.3">1</text>
<circle cx="686.20" cy="504.50" r="5.80" fill="#ff1010"/>
<text transform="translate(705.2,511.70) scale(0.88,1)" font-size="25" font-weight="bold" fill="#0d0d0d" stroke="#0d0d0d" stroke-width="0.3">2</text>
<polygon points="686.20,521.40 693.10,533.10 679.30,533.10" fill="#1515ff"/>
<text transform="translate(705.2,535.50) scale(0.88,1)" font-size="25" font-weight="bold" fill="#0d0d0d" stroke="#0d0d0d" stroke-width="0.3">3</text>
<polygon points="686.20,562.10 693.10,550.40 679.30,550.40" fill="#2af50a"/>
<text transform="translate(705.2,563.00) scale(0.88,1)" font-size="25" font-weight="bold" fill="#0d0d0d" stroke="#0d0d0d" stroke-width="0.3">4</text>
<polygon points="678.40,578.80 690.10,572.20 690.10,585.40" fill="#ff3008"/>
<text transform="translate(705.2,587.00) scale(0.88,1)" font-size="25" font-weight="bold" fill="#0d0d0d" stroke="#0d0d0d" stroke-width="0.3">5</text>
<polygon points="693.60,603.80 681.90,596.90 681.90,610.70" fill="#1c1cf8"/>
<text transform="translate(705.2,612.50) scale(0.88,1)" font-size="25" font-weight="bold" fill="#0d0d0d" stroke="#0d0d0d" stroke-width="0.3">6</text>
</svg>
</body></html>
